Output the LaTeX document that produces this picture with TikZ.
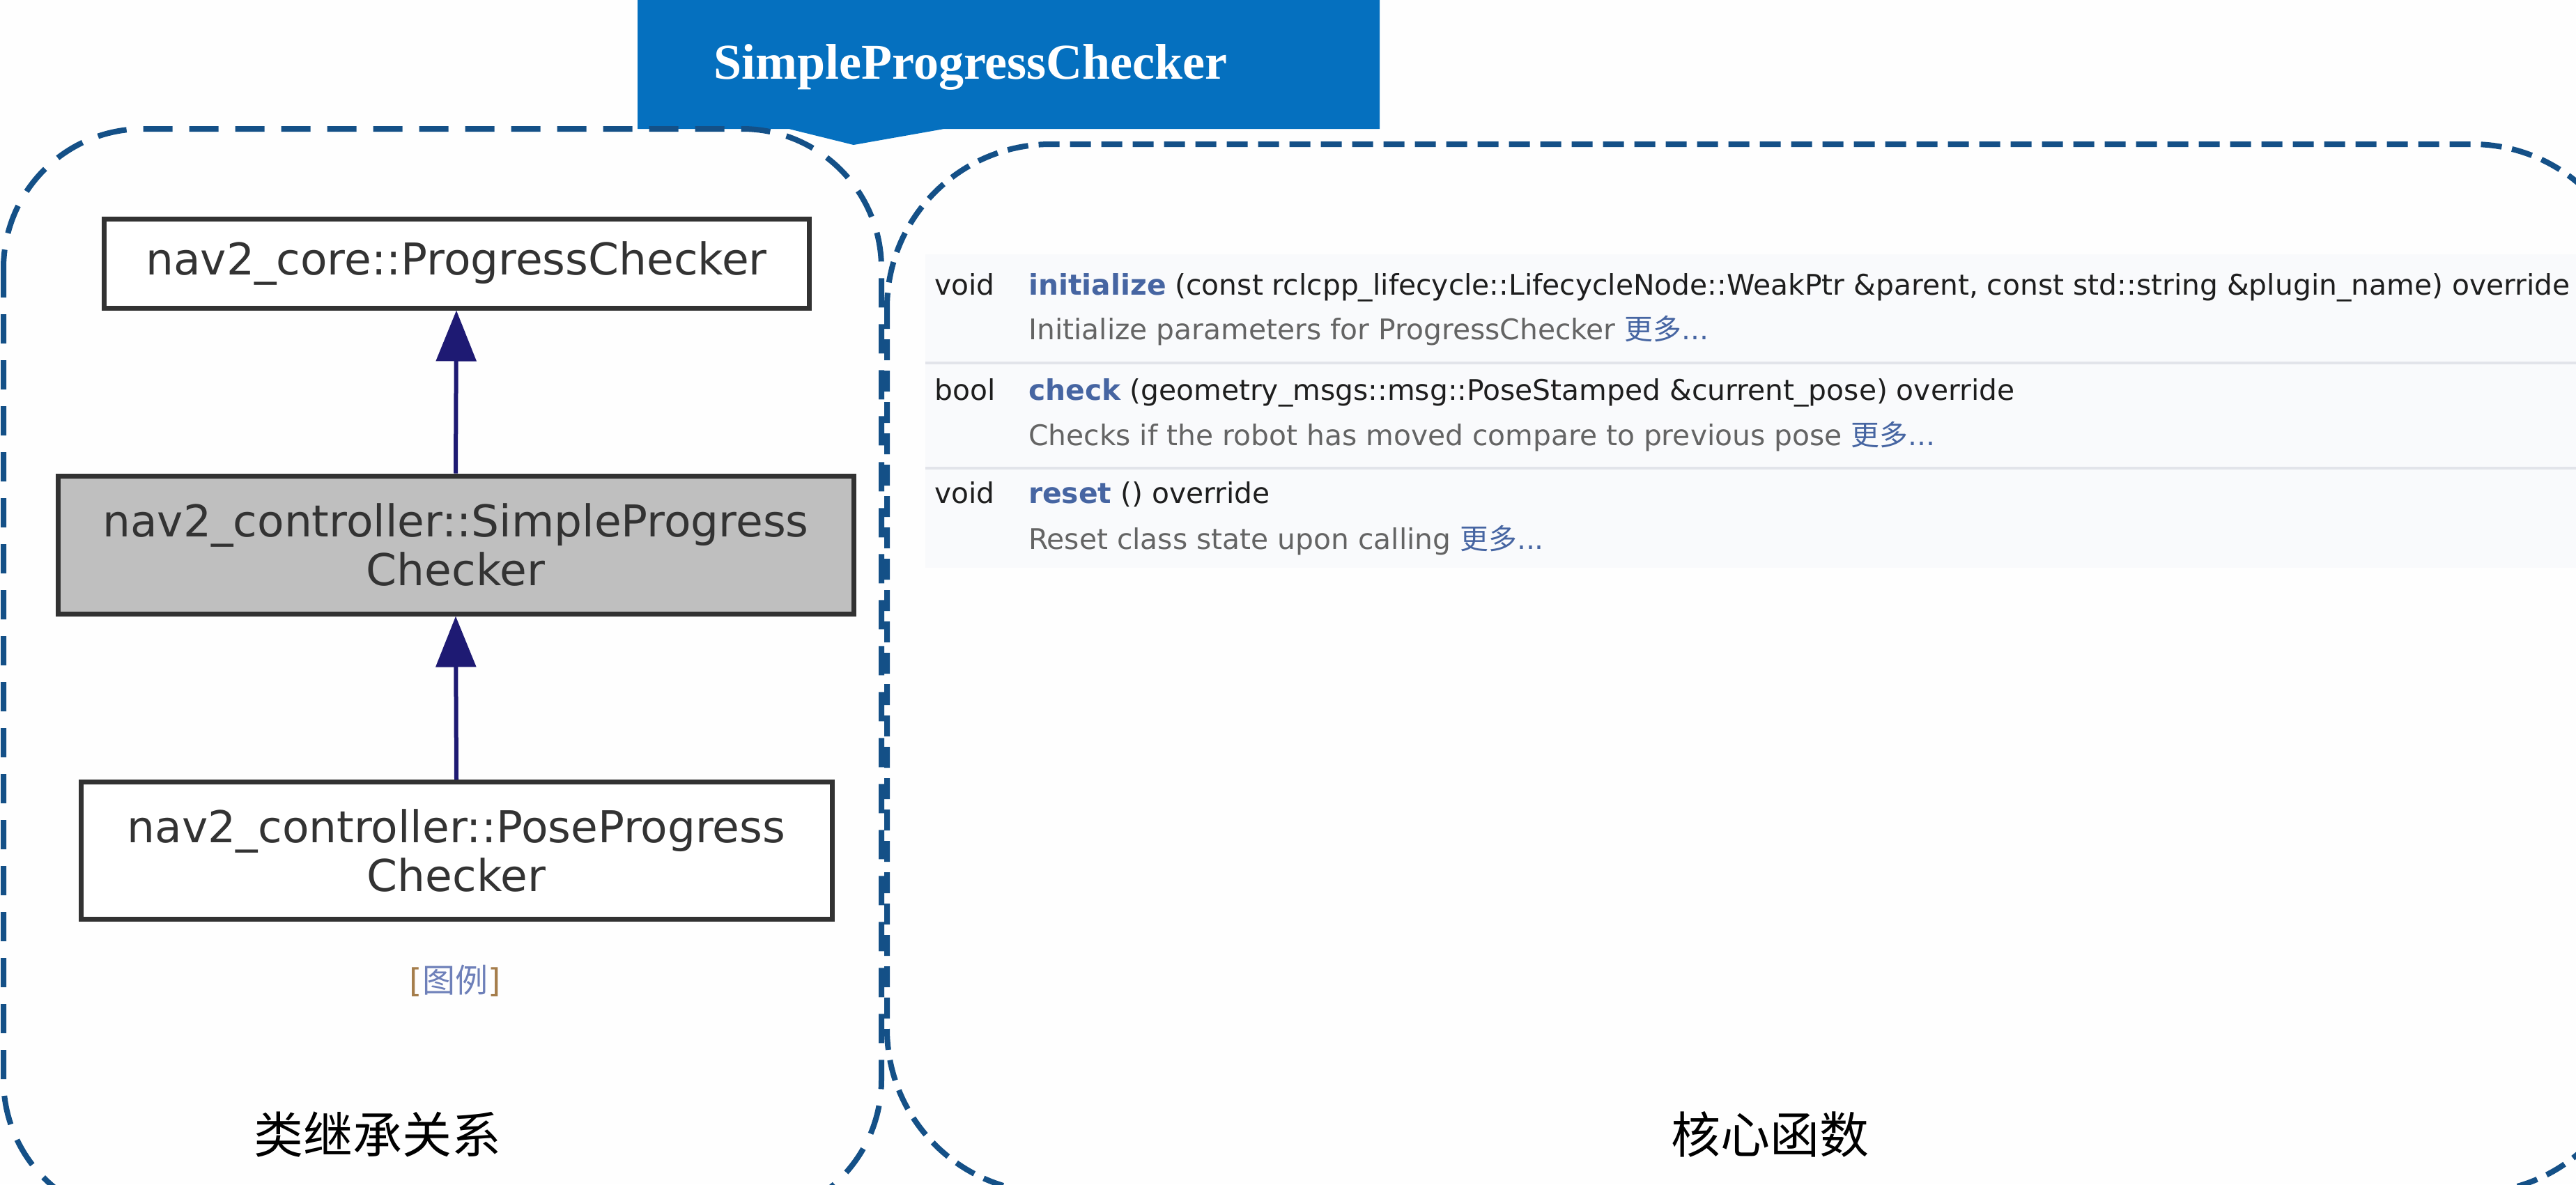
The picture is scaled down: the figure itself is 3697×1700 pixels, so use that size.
\documentclass[tikz,border=0pt]{standalone}
\usepackage{fontspec}
\setmainfont{DejaVu Sans}
\newfontfamily\cjkfont{Noto Sans CJK SC}
\newfontfamily\titleserif{Liberation Serif}
\usetikzlibrary{arrows.meta}
\definecolor{bannerblue}{RGB}{5,112,191}
\definecolor{dashblue}{RGB}{20,80,135}
\definecolor{navyarrow}{RGB}{30,26,115}
\definecolor{boxborder}{RGB}{50,50,50}
\definecolor{boxgray}{RGB}{191,191,191}
\definecolor{linkblue}{RGB}{70,101,162}
\definecolor{linklight}{RGB}{110,128,185}
\definecolor{desctext}{RGB}{100,100,100}
\definecolor{titletext}{RGB}{30,30,30}
\definecolor{sepgray}{RGB}{226,228,234}
\definecolor{rowbg}{RGB}{249,250,252}
\definecolor{bracket}{RGB}{165,125,75}
\begin{document}
\begin{tikzpicture}[x=1pt,y=-1pt,
  cls/.style={draw=boxborder, line width=7pt, fill=white, inner sep=0pt, align=center,
    text=black!80, font=\fontsize{63}{70}\selectfont},
  inharrow/.style={draw=navyarrow, line width=6pt,
    -{Triangle[length=73pt,width=57pt,fill=navyarrow]}},
  dashbox/.style={draw=dashblue, line width=8pt},
  mem/.style={anchor=base west, inner sep=0pt, font=\fontsize{40.8}{48}\selectfont, text=titletext},
  desc/.style={anchor=base west, inner sep=0pt, font=\fontsize{40.8}{48}\selectfont, text=desctext},
  sep/.style={draw=sepgray, line width=4pt},
  cjklabel/.style={font=\cjkfont\fontsize{71}{80}\selectfont, text=black, inner sep=0pt}
]
\path[use as bounding box] (0,0) rectangle (3697,1700);
\clip (0,0) rectangle (3697,1700);
\fill[white!99!gray] (0,0) rectangle (3697,1700);

% member list background and separators
\fill[rowbg] (1328,365) rectangle (3697,815);
\draw[sep] (1328,521) -- (3697,521);
\draw[sep] (1328,672) -- (3697,672);

% title banner
\fill[bannerblue] (915,0) -- (1980,0) -- (1980,185) -- (1355,185) -- (1225,208)
  -- (1132,185) -- (915,185) -- cycle;
\node[anchor=base, text=white, inner sep=0pt,
  font=\titleserif\bfseries\fontsize{72}{80}\selectfont] (title) at (1393,113) {SimpleProgressChecker};

% dashed frames
\draw[dashbox, dash pattern=on 42pt off 24pt, rounded corners=200pt] (5,185) rectangle (1265,1750);
\draw[dashbox, dash pattern=on 30pt off 15pt, rounded corners=235pt] (1273,207) rectangle (3783,1712);

% class diagram
\node[cls, minimum width=1012pt, minimum height=128pt] (base) at (655,378) {nav2\_core::ProgressChecker};
\node[cls, fill=boxgray, minimum width=1142pt, minimum height=198pt] (simple) at (654,782)
  {nav2\_controller::SimpleProgress\\Checker};
\node[cls, minimum width=1078pt, minimum height=197pt] (pose) at (655,1221)
  {nav2\_controller::PoseProgress\\Checker};
\draw[inharrow] (simple.north) -- (base.south);
\draw[inharrow] (pose.north) -- (simple.south);

\node[inner sep=0pt, font=\fontsize{47}{55}\selectfont] (legend) at (653,1408)
  {{\color{bracket}[}{\cjkfont\color{linklight}图例}{\color{bracket}]}};

% section labels
\node[cjklabel] (lblleft) at (542,1628) {类继承关系};
\node[cjklabel] (lblright) at (2540,1628) {核心函数};

% member functions
\node[mem] (ty1) at (1341,423) {void};
\node[mem] (fn1) at (1476,423) {{\bfseries\color{linkblue}initialize} (const rclcpp\_lifecycle::LifecycleNode::WeakPtr \&parent, const std::string \&plugin\_name) override};
\node[desc] (ds1) at (1476,487) {Initialize parameters for ProgressChecker {\cjkfont\color{linkblue}更多}{\color{linkblue}...}};

\node[mem] (ty2) at (1341,574) {bool};
\node[mem] (fn2) at (1476,574) {{\bfseries\color{linkblue}check} (geometry\_msgs::msg::PoseStamped \&current\_pose) override};
\node[desc] (ds2) at (1476,639) {Checks if the robot has moved compare to previous pose {\cjkfont\color{linkblue}更多}{\color{linkblue}...}};

\node[mem] (ty3) at (1341,722) {void};
\node[mem] (fn3) at (1476,722) {{\bfseries\color{linkblue}reset} () override};
\node[desc] (ds3) at (1476,788) {Reset class state upon calling {\cjkfont\color{linkblue}更多}{\color{linkblue}...}};
\end{tikzpicture}
\end{document}
